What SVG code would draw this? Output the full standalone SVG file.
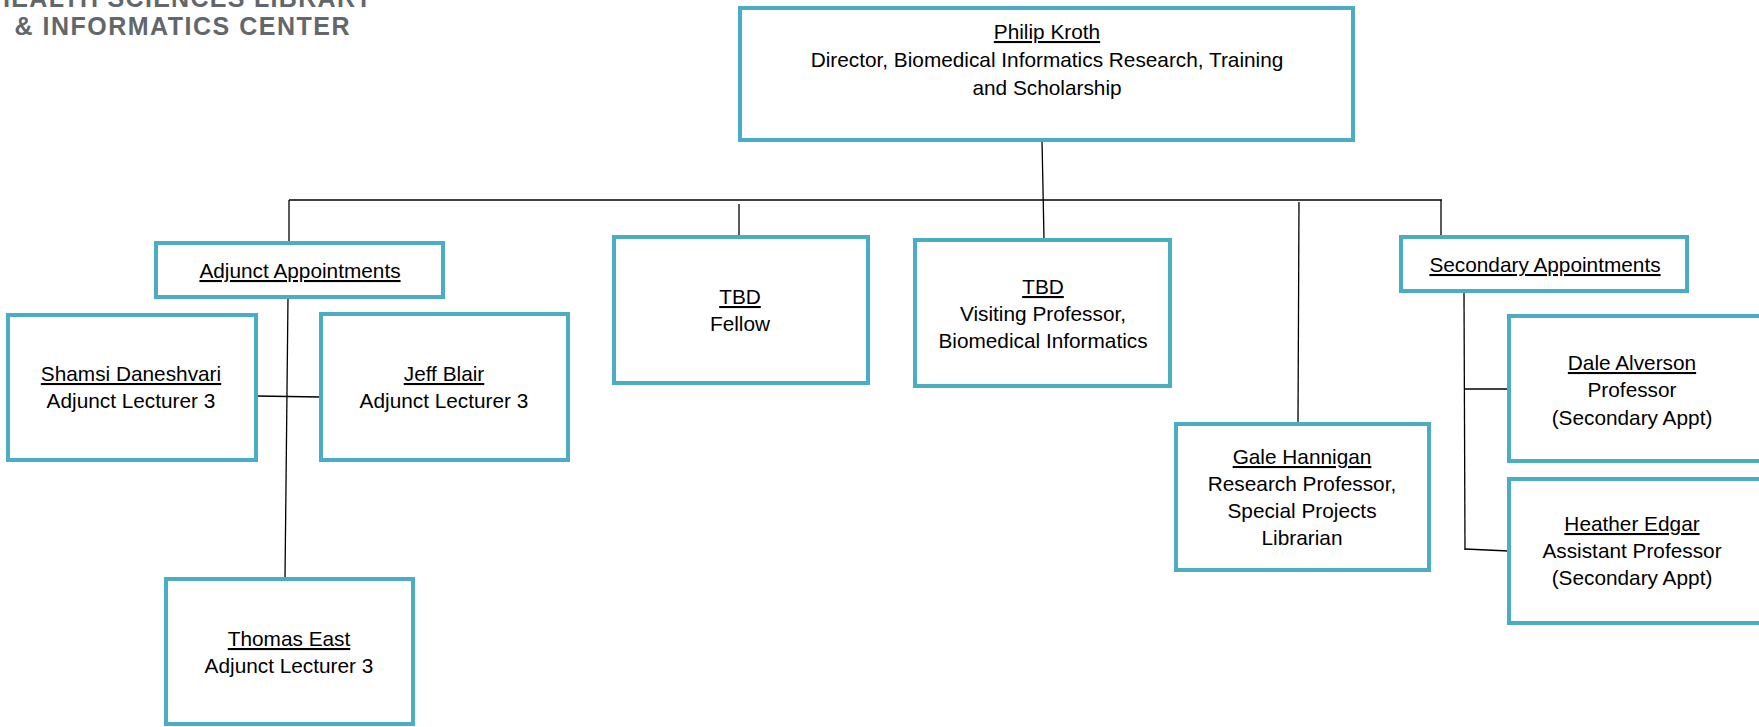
<svg xmlns="http://www.w3.org/2000/svg" width="1759" height="727" viewBox="0 0 1759 727">
<style>
.box{fill:#fff;stroke:#4BACC6;stroke-width:4}
.t{font-family:"Liberation Sans",Arial,sans-serif;font-size:20.8px;fill:#000;text-anchor:middle}
.u{text-decoration:underline}
.hdr{font-family:"Liberation Sans",Arial,sans-serif;font-weight:bold;font-size:25px;fill:#63666A;text-anchor:middle}
.c{stroke:#000;stroke-width:1.3;fill:none}
</style>
<rect width="1759" height="727" fill="#fff"/>
<g id="header">
<text class="hdr" x="182" y="7" textLength="380" lengthAdjust="spacing">HEALTH SCIENCES LIBRARY</text>
<text class="hdr" x="182" y="35" textLength="335" lengthAdjust="spacing">&amp; INFORMATICS CENTER</text>
</g>
<g id="connectors">
<line class="c" x1="1042" y1="140" x2="1044" y2="239"/>
<line class="c" x1="289" y1="200" x2="1442" y2="200"/>
<line class="c" x1="289" y1="200" x2="289" y2="243"/>
<line class="c" x1="739" y1="204" x2="739" y2="237"/>
<line class="c" x1="1299" y1="202" x2="1298" y2="422"/>
<line class="c" x1="1441" y1="200" x2="1441" y2="237"/>
<line class="c" x1="288" y1="297" x2="285" y2="579"/>
<line class="c" x1="256" y1="396" x2="321" y2="397"/>
<line class="c" x1="1464" y1="293" x2="1465" y2="550"/>
<line class="c" x1="1464" y1="389" x2="1509" y2="389"/>
<line class="c" x1="1465" y1="549" x2="1509" y2="551"/>
</g>
<g id="node-kroth">
<rect class="box" x="740" y="8" width="613" height="132"/>
<text class="t u" x="1047" y="39">Philip Kroth</text>
<text class="t" x="1047" y="67">Director, Biomedical Informatics Research, Training</text>
<text class="t" x="1047" y="95">and Scholarship</text>
</g>
<g id="node-adjunct">
<rect class="box" x="156" y="243" width="287" height="54"/>
<text class="t u" x="300" y="278">Adjunct Appointments</text>
</g>
<g id="node-daneshvari">
<rect class="box" x="8" y="315" width="248" height="145"/>
<text class="t u" x="131" y="381">Shamsi Daneshvari</text>
<text class="t" x="131" y="408">Adjunct Lecturer 3</text>
</g>
<g id="node-blair">
<rect class="box" x="321" y="314" width="247" height="146"/>
<text class="t u" x="444" y="381">Jeff Blair</text>
<text class="t" x="444" y="408">Adjunct Lecturer 3</text>
</g>
<g id="node-east">
<rect class="box" x="166" y="579" width="247" height="145"/>
<text class="t u" x="289" y="646">Thomas East</text>
<text class="t" x="289" y="673">Adjunct Lecturer 3</text>
</g>
<g id="node-fellow">
<rect class="box" x="614" y="237" width="254" height="146"/>
<text class="t u" x="740" y="304">TBD</text>
<text class="t" x="740" y="331">Fellow</text>
</g>
<g id="node-visiting">
<rect class="box" x="915" y="240" width="255" height="146"/>
<text class="t u" x="1043" y="294">TBD</text>
<text class="t" x="1043" y="321">Visiting Professor,</text>
<text class="t" x="1043" y="348">Biomedical Informatics</text>
</g>
<g id="node-hannigan">
<rect class="box" x="1176" y="424" width="253" height="146"/>
<text class="t u" x="1302" y="464">Gale Hannigan</text>
<text class="t" x="1302" y="491">Research Professor,</text>
<text class="t" x="1302" y="518">Special Projects</text>
<text class="t" x="1302" y="545">Librarian</text>
</g>
<g id="node-secondary">
<rect class="box" x="1401" y="237" width="286" height="54"/>
<text class="t u" x="1545" y="272">Secondary Appointments</text>
</g>
<g id="node-alverson">
<rect class="box" x="1509" y="316" width="256" height="145"/>
<text class="t u" x="1632" y="370">Dale Alverson</text>
<text class="t" x="1632" y="397">Professor</text>
<text class="t" x="1632" y="425">(Secondary Appt)</text>
</g>
<g id="node-edgar">
<rect class="box" x="1509" y="479" width="256" height="144"/>
<text class="t u" x="1632" y="531">Heather Edgar</text>
<text class="t" x="1632" y="558">Assistant Professor</text>
<text class="t" x="1632" y="585">(Secondary Appt)</text>
</g>
</svg>
